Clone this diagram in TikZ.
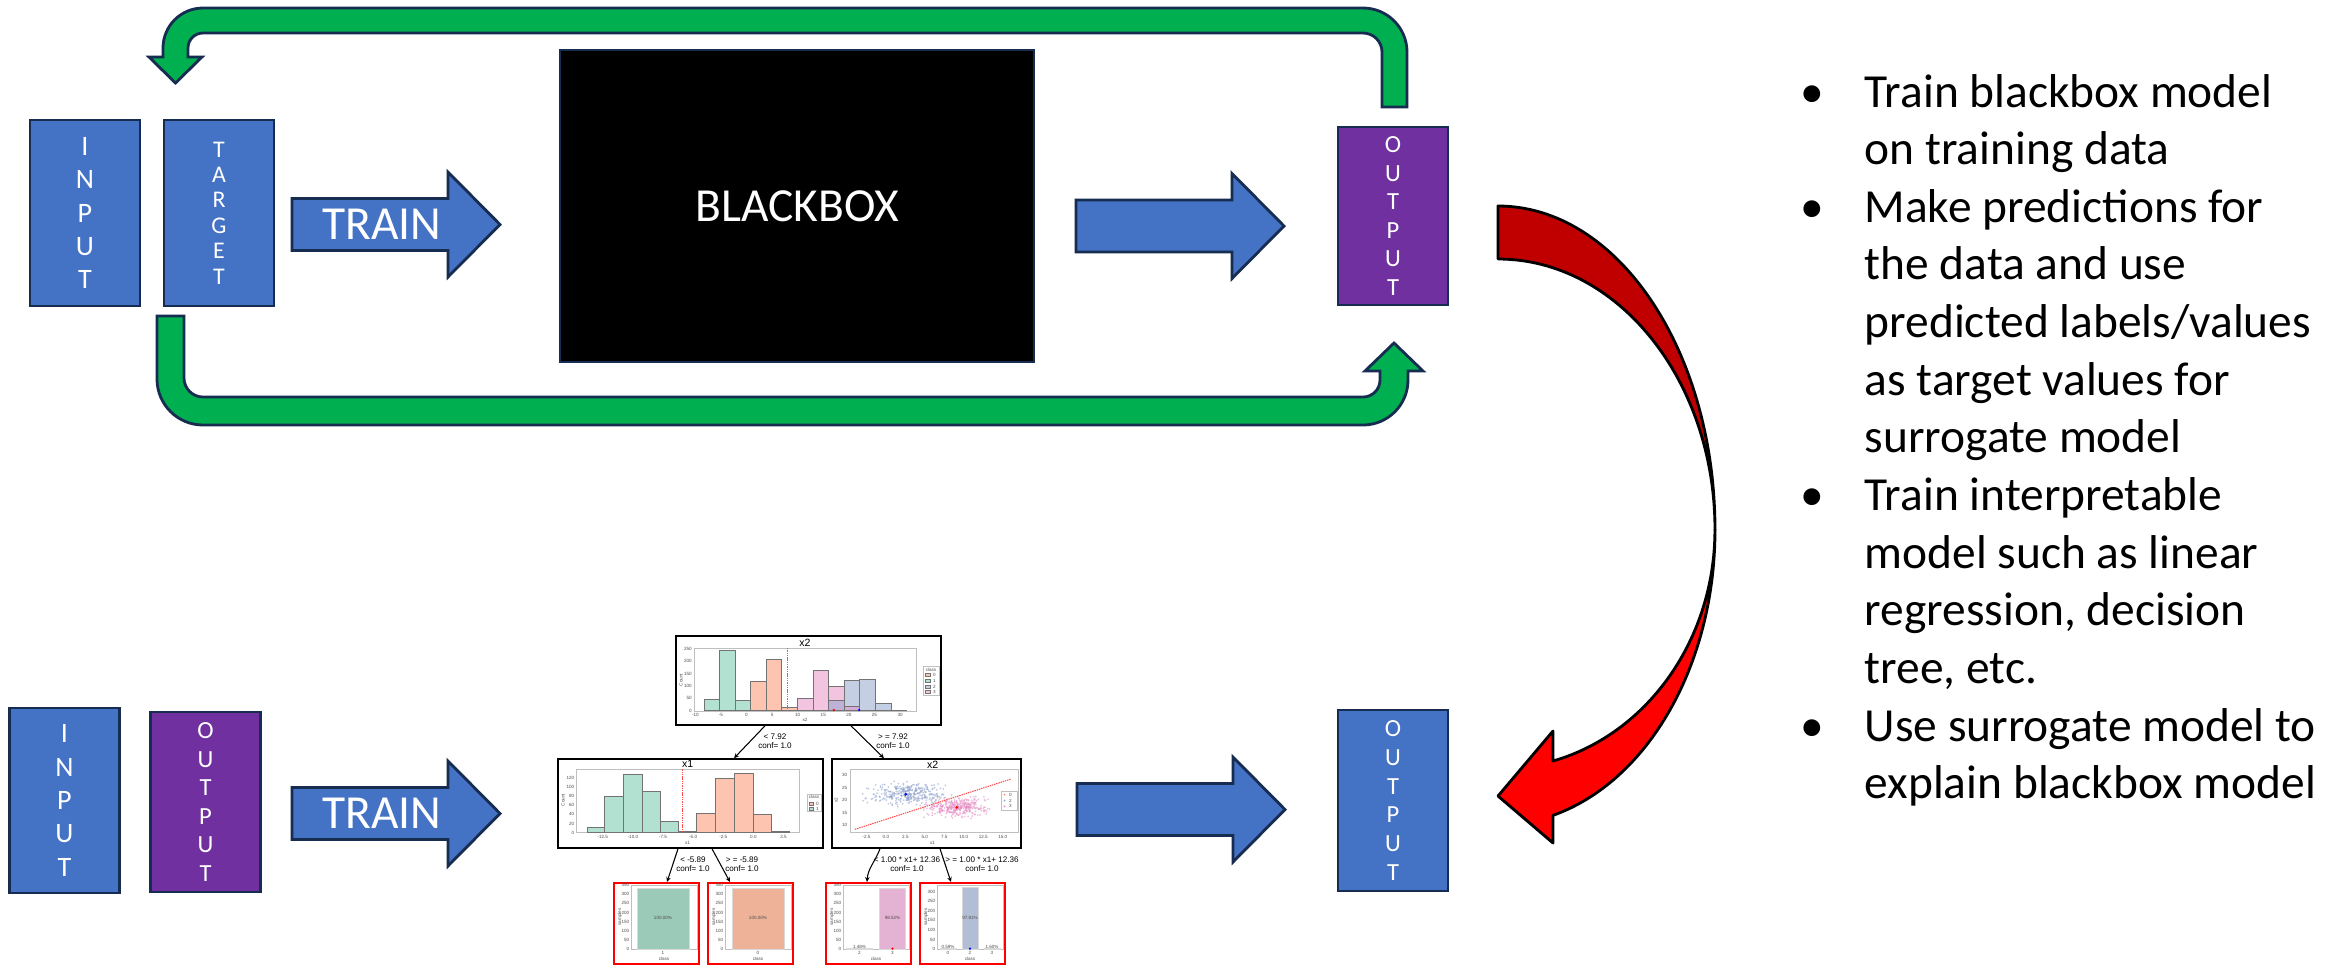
\documentclass[tikz,border=0pt]{standalone}
\usepackage{fontspec}
\setmainfont{Carlito}
\newfontfamily\plotfont{Liberation Sans}
\usetikzlibrary{arrows.meta,calc}
\definecolor{office}{HTML}{4472C4}
\definecolor{outviolet}{HTML}{7030A0}
\definecolor{loopgreen}{HTML}{00B050}
\definecolor{rim}{HTML}{172C51}
\definecolor{deepred}{HTML}{C00000}
\definecolor{hotred}{HTML}{FF0000}
\definecolor{corange}{HTML}{FC8D62}
\definecolor{cgreen}{HTML}{66C2A5}
\definecolor{cblue}{HTML}{8DA0CB}
\definecolor{cpink}{HTML}{E78AC3}
\definecolor{leafgreen}{HTML}{9BCAB9}
\definecolor{leaforange}{HTML}{EEB298}
\definecolor{leafblue}{HTML}{B2BDD6}
\definecolor{leafpink}{HTML}{E4B2D2}
\tikzset{
  databox/.style={draw=rim, line width=0.8pt, text=white, align=center,
                  inner sep=0pt, minimum width=11mm},
  blockarrow/.style={draw=rim, fill=office, line width=0.8pt},
  greenloop/.style={draw=rim, fill=loopgreen, line width=0.8pt},
  redarrow/.style={draw=black, line width=0.8pt, line join=round},
  bigtext/.style={font=\fontsize{13.5}{16.2}\selectfont, text=white, inner sep=0pt},
  panel/.style={draw=black, line width=0.45pt, fill=white, inner sep=0pt},
  leafbox/.style={draw=red, line width=0.55pt, fill=white, inner sep=0pt,
                  minimum width=8.5mm, minimum height=8.1mm},
  axesframe/.style={draw=black!25, line width=0.2pt},
  histbar/.style={draw=black!55, line width=0.25pt, fill opacity=0.5},
  leafbar/.style={draw=black!15, line width=0.15pt},
  ticklabel/.style={font=\plotfont\fontsize{1.3}{1.5}\selectfont, text=black!70, inner sep=0.15pt},
  plottitle/.style={font=\plotfont\fontsize{3}{3.5}\selectfont, inner sep=0pt},
  splitedge/.style={-{Stealth[length=0.5mm,width=0.45mm]}, line width=0.3pt},
  splitlabel/.style={font=\plotfont\fontsize{2.3}{2.56}\selectfont, align=center, inner sep=0pt},
  cutline/.style={draw=red!70, line width=0.3pt, dash pattern=on 0.4pt off 0.25pt},
  pics/fatarrow/.style={code={
    \draw[blockarrow] (0,-26) -- (156,-26) -- (156,-52.5) -- (208,0)
      -- (156,52.5) -- (156,26) -- (0,26) -- cycle;
  }}
}
\begin{document}
\begin{tikzpicture}[x=0.1mm,y=-0.1mm]
  \fill[white] (0,0) rectangle (2346,965);
  \useasboundingbox (0,0) rectangle (2346,965);

  % feedback loops round the training row
  \draw[greenloop] (1407,107) -- (1407,52) arc[start angle=0,end angle=90,radius=4.4mm]
    -- (203,8) arc[start angle=90,end angle=180,radius=4mm]
    -- (163,57) -- (149,57) -- (175.5,83) -- (202,57) -- (188,57)
    -- (188,48) arc[start angle=180,end angle=90,radius=1.5mm]
    -- (1363,33) arc[start angle=90,end angle=0,radius=1.9mm] -- (1382,107) -- cycle;
  \draw[greenloop] (157,316) -- (157,379) arc[start angle=180,end angle=270,radius=4.6mm]
    -- (1363,425) arc[start angle=270,end angle=360,radius=4.5mm]
    -- (1408,371) -- (1423,371) -- (1394,343) -- (1365,371) -- (1380,371)
    -- (1380,380) arc[start angle=0,end angle=-90,radius=1.7mm]
    -- (203,397) arc[start angle=270,end angle=180,radius=1.9mm] -- (184,316) -- cycle;

  % training row
  \node[databox, fill=office, minimum height=18.6mm, font=\fontsize{8}{9.47}\selectfont]
    (inTop) at (85,213) {I\\N\\P\\U\\T};
  \node[databox, fill=office, minimum height=18.6mm, font=\fontsize{6.8}{7.23}\selectfont]
    (tgtTop) at (219,213) {T\\A\\R\\G\\E\\T};
  \pic at (292,224.5) {fatarrow};
  \node[bigtext] (trainTop) at (382,224.5) {TRAIN};
  \node[databox, fill=black, line width=0.5pt, minimum width=47.4mm, minimum height=31.2mm,
        font=\fontsize{13.5}{16.2}\selectfont] (bbox) at (797,206) {BLACKBOX};
  \pic at (1076,226) {fatarrow};
  \node[databox, fill=outviolet, minimum height=17.8mm, font=\fontsize{7}{8.14}\selectfont]
    (outTop) at (1393,216) {O\\U\\T\\P\\U\\T};

  % hand-over to the surrogate
  \draw[redarrow, fill=hotred] (1715,530) arc[start angle=0,end angle=-75.3,x radius=21.7mm,y radius=29.5mm]
    -- (1553,843) -- (1498,796) -- (1553,731) -- (1553,761)
    arc[start angle=-75.3,end angle=0,x radius=21.7mm,y radius=23.9mm] -- cycle;
  \draw[redarrow, fill=deepred] (1498,206) arc[start angle=90,end angle=0,x radius=21.7mm,y radius=32.4mm]
    arc[start angle=0,end angle=90,x radius=21.7mm,y radius=27.1mm] -- cycle;

  % surrogate row
  \node[databox, fill=office, minimum height=18.5mm, font=\fontsize{8}{9.47}\selectfont]
    (inBot) at (64.5,800.5) {I\\N\\P\\U\\T};
  \node[databox, fill=outviolet, minimum height=18mm, font=\fontsize{7}{8.14}\selectfont]
    (outBot) at (205.5,802) {O\\U\\T\\P\\U\\T};
  \pic at (292,813.5) {fatarrow};
  \node[bigtext] (trainBot) at (382,813.5) {TRAIN};
  \pic at (1077,809.5) {fatarrow};
  \node[databox, fill=office, minimum height=18.1mm, font=\fontsize{7}{8.14}\selectfont]
    (outRes) at (1393,800.5) {O\\U\\T\\P\\U\\T};

  % root split: histogram of x2
  \node[panel, minimum width=26.5mm, minimum height=8.9mm] (rootplot) at (808.5,680.5) {};
  \node[plottitle] (roottitle) at (805,643) {x2};
  \draw[axesframe] (694,648) rectangle (916,711);
  \foreach \xa/\xb/\yt/\col in {704.5/719.0/699.1/cgreen, 719.0/735.1/650.0/cgreen,
      735.1/750.4/700.7/cgreen, 750.4/766.1/681.7/corange, 766.1/781.8/659.3/corange,
      781.8/797.5/707.7/corange, 797.5/813.5/698.3/cpink, 813.5/828.8/670.3/cpink,
      828.8/844.5/686.0/cpink, 828.8/844.5/700.7/cblue, 844.5/859.8/680.0/cblue,
      844.5/859.8/706.0/cpink, 859.8/875.5/679.0/cblue, 875.5/891.2/703.3/cblue,
      891.2/906.5/710.2/cblue}
    \draw[histbar, fill=\col] (\xa,710.7) rectangle (\xb,\yt);
  \draw[cutline] (787.1,648) -- (787.1,711);
  \fill[red] (833.8,710) circle[radius=0.13mm];
  \fill[blue] (859.1,710) circle[radius=0.13mm];
  \foreach \val [count=\k] in {0,50,...,250}
    \node[ticklabel, anchor=east] (rooty\k) at (693,{710.7-\val*0.2467}) {\val};
  \foreach \val [count=\k] in {-10,-5,...,30}
    \node[ticklabel] (rootx\k) at ({746.5+\val*5.118},714.5) {\val};
  \node[ticklabel, rotate=90] (rootylab) at (681,680) {Count};
  \node[ticklabel] (rootxlab) at (805,720) {x2};
  \draw[axesframe, fill=white] (923.5,666.5) rectangle (939,695.5);
  \node[ticklabel] (rootleg) at (931,669.5) {class};
  \foreach \col/\cls [count=\k] in {corange/0,cgreen/1,cblue/2,cpink/3} {
    \draw[histbar, fill=\col] (925.5,{668+\k*5.7}) rectangle (930.5,{671+\k*5.7});
    \node[ticklabel, anchor=west] (rootleg\k) at (932,{669.5+\k*5.7}) {\cls};
  }

  % left child: histogram of x1
  \node[panel, minimum width=26.5mm, minimum height=8.9mm] (leftplot) at (690.5,803.5) {};
  \node[plottitle] (lefttitle) at (687.6,764.3) {x1};
  \draw[axesframe] (576.6,769.3) rectangle (799.4,832.7);
  \foreach \xa/\xb/\yt/\col in {587.0/604.2/827.7/cgreen, 604.2/623.3/796.1/cgreen,
      623.3/642.5/774.1/cgreen, 642.5/660.5/791.9/cgreen, 660.5/678.8/821.7/cgreen,
      678.8/696.8/831.3/corange, 696.8/715.9/813.0/corange, 715.9/734.3/778.7/corange,
      734.3/753.4/773.2/corange, 753.4/771.1/814.8/corange, 771.1/789.8/831.3/corange}
    \draw[histbar, fill=\col] (\xa,832.7) rectangle (\xb,\yt);
  \draw[cutline] (682.6,769.3) -- (682.6,832.7);
  \foreach \val [count=\k] in {0,20,...,120}
    \node[ticklabel, anchor=east] (lefty\k) at (575.5,{832.7-\val*0.458}) {\val};
  \foreach \val [count=\k] in {-12.5,-10.0,-7.5,-5.0,-2.5,0.0,2.5}
    \node[ticklabel] (leftx\k) at ({753.4+\val*12.05},837) {\val};
  \node[ticklabel, rotate=90] (leftylab) at (563,800) {Count};
  \node[ticklabel] (leftxlab) at (687.6,842.5) {x1};
  \draw[axesframe, fill=white] (807.5,794.5) rectangle (821,811);
  \node[ticklabel] (leftleg) at (814,797.3) {class};
  \foreach \col/\cls [count=\k] in {corange/0,cgreen/1} {
    \draw[histbar, fill=\col] (809,{796.9+\k*5.5}) rectangle (813.5,{799.5+\k*5.5});
    \node[ticklabel, anchor=west] (leftleg\k) at (815,{798.2+\k*5.5}) {\cls};
  }

  % right child: scatter of x1 against x2
  \node[panel, minimum width=18.9mm, minimum height=8.9mm] (rightplot) at (926.5,803.5) {};
  \node[plottitle] (righttitle) at (932.6,764.3) {x2};
  \draw[axesframe] (849.9,769.3) rectangle (1018.7,832.7);
  \begin{scope}
    \clip (849.9,769.3) rectangle (1018.7,832.7);
    \pgfmathsetseed{11}
    \foreach \k in {1,...,340} {
      \pgfmathsetmacro{\ux}{905.8+17*(rand+rand+rand)}
      \pgfmathsetmacro{\uy}{794.3+5*(rand+rand+rand)}
      \fill[cblue, opacity=0.55] (\ux,\uy) circle[radius=0.1mm];
      \pgfmathsetmacro{\wx}{956.7+15*(rand+rand+rand)}
      \pgfmathsetmacro{\wy}{807.3+4.5*(rand+rand+rand)}
      \fill[cpink, opacity=0.55] (\wx,\wy) circle[radius=0.1mm];
    }
  \end{scope}
  \draw[cutline] (854.9,829.3) -- (1011,779);
  \fill[blue] (905.8,794.3) circle[radius=0.15mm];
  \fill[red] (956.7,807.3) circle[radius=0.15mm];
  \foreach \val [count=\k] in {10,15,...,30}
    \node[ticklabel, anchor=east] (righty\k) at (848.5,{800-(\val-20)*2.5}) {\val};
  \foreach \val [count=\k] in {-2.5,0.0,2.5,5.0,7.5,10.0,12.5,15.0}
    \node[ticklabel] (rightx\k) at ({885.9+\val*7.79},837) {\val};
  \node[ticklabel, rotate=90] (rightylab) at (836,800) {x2};
  \node[ticklabel] (rightxlab) at (932.6,842.5) {x1};
  \draw[axesframe, fill=white] (1001,791) rectangle (1017,810);
  \foreach \col/\cls [count=\k] in {corange/0,cblue/2,cpink/3} {
    \fill[\col] (1004.5,{788.9+\k*5.8}) circle[radius=0.1mm];
    \node[ticklabel, anchor=west] (rightleg\k) at (1008,{788.9+\k*5.8}) {\cls};
  }

  % leaves: class counts
  \foreach \leaf/\lx/\ymax/\sc in {leafA/613/350/0.1829, leafB/707/350/0.1829,
      leafC/825/350/0.1829, leafD/919/300/0.191} {
    \node[leafbox, anchor=north west] (\leaf) at (\lx,882) {};
    \draw[axesframe] ({\lx+18},885) rectangle ({\lx+84},949);
    \foreach \val [count=\k] in {0,50,...,\ymax}
      \node[ticklabel, anchor=east] (\leaf-y\k) at ({\lx+17.5},{949-\val*\sc}) {\val};
    \node[ticklabel, rotate=90] (\leaf-ylab) at ({\lx+7},917) {samples};
    \node[ticklabel] (\leaf-xlab) at ({\lx+51},958.5) {class};
  }
  \draw[leafbar, fill=leafgreen] (637,949) rectangle (689,888);
  \node[ticklabel] (leafA-pct) at (663,918) {100.00\%};
  \node[ticklabel] (leafA-x1) at (663,952.5) {1};
  \draw[leafbar, fill=leaforange] (732,949) rectangle (784,888);
  \node[ticklabel] (leafB-pct) at (758,918) {100.00\%};
  \node[ticklabel] (leafB-x1) at (758,952.5) {0};
  \draw[leafbar, fill=leafblue] (846.5,949) rectangle (872.5,948);
  \draw[leafbar, fill=leafpink] (879.5,949) rectangle (905.5,888);
  \fill[red] (892.5,948.6) circle[radius=0.12mm];
  \node[ticklabel] (leafC-pct1) at (859.5,946.5) {1.48\%};
  \node[ticklabel] (leafC-pct2) at (892.5,918) {98.52\%};
  \node[ticklabel] (leafC-x1) at (859.5,952.5) {2};
  \node[ticklabel] (leafC-x2) at (892.5,952.5) {3};
  \draw[leafbar, fill=leaforange] (940,949) rectangle (956,948.6);
  \draw[leafbar, fill=leafblue] (962,949) rectangle (978,887);
  \draw[leafbar, fill=leafpink] (984,949) rectangle (1000,948);
  \fill[blue] (970,948.6) circle[radius=0.12mm];
  \node[ticklabel] (leafD-pct1) at (948,946.5) {0.59\%};
  \node[ticklabel] (leafD-pct2) at (970,918) {97.81\%};
  \node[ticklabel] (leafD-pct3) at (992,946.5) {1.60\%};
  \node[ticklabel] (leafD-x1) at (948,952.5) {0};
  \node[ticklabel] (leafD-x2) at (970,952.5) {2};
  \node[ticklabel] (leafD-x3) at (992,952.5) {3};

  % splits
  \draw[splitedge] (rootplot.south -| {765,0}) -- (leftplot.north -| {734,0});
  \draw[splitedge] (rootplot.south -| {851,0}) -- (rightplot.north -| {884,0});
  \draw[splitedge] (leftplot.south -| {678,0}) -- (leafA.north -| {667,0});
  \draw[splitedge] (leftplot.south -| {712,0}) -- (leafB.north -| {730,0});
  \draw[splitedge] (rightplot.south -| {880,0}) .. controls (875,862) and (868,868) .. (leafC.north -| {867,0});
  \draw[splitedge] (rightplot.south -| {940,0}) -- (leafD.north -| {951,0});
  \node[splitlabel] (cutA) at (775,741.5) {< 7.92\\conf= 1.0};
  \node[splitlabel] (cutB) at (893,741.5) {> = 7.92\\conf= 1.0};
  \node[splitlabel] (cutC) at (693,863.8) {< -5.89\\conf= 1.0};
  \node[splitlabel] (cutD) at (742,863.8) {> = -5.89\\conf= 1.0};
  \node[splitlabel] (cutE) at (907,863.8) {< 1.00 * x1+ 12.36\\conf= 1.0};
  \node[splitlabel] (cutF) at (982,863.8) {> = 1.00 * x1+ 12.36\\conf= 1.0};

  % steps
  \node[anchor=base west, inner sep=0pt, font=\fontsize{13.5}{16.4}\selectfont] (notes) at (1800,107) {%
    \begin{tabular}[t]{@{}p{6.4mm}@{}l@{}}
      \textbullet & Train blackbox model\\
                  & on training data\\
      \textbullet & Make predictions for\\
                  & the data and use\\
                  & predicted labels/values\\
                  & as target values for\\
                  & surrogate model\\
      \textbullet & Train interpretable\\
                  & model such as linear\\
                  & regression, decision\\
                  & tree, etc.\\
      \textbullet & Use surrogate model to\\
                  & explain blackbox model
    \end{tabular}};
\end{tikzpicture}
\end{document}
